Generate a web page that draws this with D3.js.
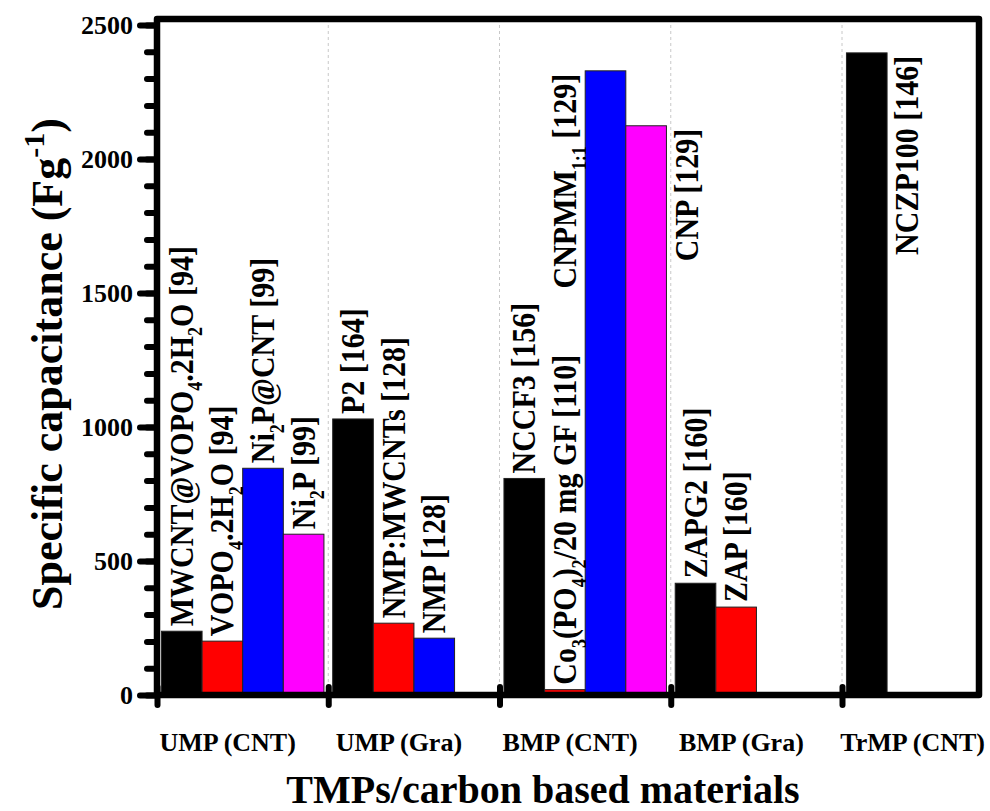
<!DOCTYPE html>
<html lang="en">
<head>
<meta charset="UTF-8">
<title>Specific capacitance of TMPs</title>
<style>
  body { margin: 0; background: #fff; }
  text { font-family: "Liberation Serif", "Times New Roman", serif; font-weight: bold; fill: #000; }
</style>
</head>
<body>
<svg width="990" height="811"></svg>
<script src="https://d3js.org/d3.v7.min.js"></script>
<script>
// data, one entry per category (null = no bar in that slot)
var categories = ["UMP (CNT)", "UMP (Gra)", "BMP (CNT)", "BMP (Gra)", "TrMP (CNT)"];
var blackVals   = [238, 1030, 808, 417, 2396];
var redVals     = [201, 268, 20, 328, null];
var blueVals    = [846, 212, 2329, null, null];
var magentaVals = [600, null, 2124, null, null];

// "_x" or "_{..}" marks a subscript
var blackLabels   = ["MWCNT@VOPO_4.2H_2O [94]", "P2 [164]", "NCCF3 [156]", "ZAPG2 [160]", "NCZP100 [146]"];
var redLabels     = ["VOPO_4.2H_2O [94]", "NMP:MWCNTs [128]", "Co_3(PO_4)_2/20 mg GF [110]", "ZAP [160]", null];
var blueLabels    = ["Ni_2P@CNT [99]", "NMP [128]", "CNPMM_{1:1} [129]", null, null];
var magentaLabels = ["Ni_2P [99]", null, "CNP [129]", null, null];

var yTicks = [0, 500, 1000, 1500, 2000, 2500];
var yMinor = d3.range(0, 2501, 100);

var svg = d3.select("svg");
var plotL = 157, plotR = 979, plotT = 19, plotB = 695;

var x = d3.scaleLinear().domain([0, 4.8]).range([plotL, plotR]);
var y = d3.scaleLinear().domain([0, 2500]).range([plotB, 25]);

var pad = 0.026, slotW = 0.2372;

var series = [
  { vals: blackVals, labels: blackLabels, color: "#000000" },
  { vals: redVals, labels: redLabels, color: "#ff0000" },
  { vals: blueVals, labels: blueLabels, color: "#0000ff" },
  { vals: magentaVals, labels: magentaLabels, color: "#ff00ff" }
];

var bars = [];
series.forEach(function (s, si) {
  s.vals.forEach(function (v, g) {
    if (v != null) bars.push({ g: g, s: si, v: v, label: s.labels[g], color: s.color });
  });
});

function valueAt(g, s) {
  if (s < 0) { g -= 1; s = 3; }
  if (s > 3) { g += 1; s = 0; }
  if (g < 0 || g >= categories.length) return 0;
  var v = series[s].vals[g];
  return v == null ? 0 : v;
}
function slotCenter(g, s) {
  return x(g + pad + (s + 0.5) * slotW);
}

// dashed separators
svg.append("g").selectAll("line")
  .data([1, 2, 3, 4])
  .enter().append("line")
  .attr("x1", function (d) { return x(d); })
  .attr("x2", function (d) { return x(d); })
  .attr("y1", plotT)
  .attr("y2", plotB)
  .attr("stroke", "#c8c8c8")
  .attr("stroke-width", 1)
  .attr("stroke-dasharray", "3,3");

// bars
svg.append("g").selectAll("rect")
  .data(bars)
  .enter().append("rect")
  .attr("x", function (d) { return x(d.g + pad + d.s * slotW); })
  .attr("width", function (d) { return x(slotW) - x(0); })
  .attr("y", function (d) { return y(d.v); })
  .attr("height", function (d) { return y(0) - y(d.v); })
  .attr("fill", function (d) { return d.color; })
  .attr("stroke", "#222")
  .attr("stroke-width", 1);

// rich text with subscripts
function rich(t, str) {
  var re = /_(\{[^}]*\}|.)/g, last = 0, m, shift = 0;
  var fs = +t.attr("font-size");
  function plain(s) {
    var sp = t.append("tspan").text(s);
    if (shift) { sp.attr("dy", -shift); shift = 0; }
  }
  while ((m = re.exec(str)) !== null) {
    if (m.index > last) plain(str.slice(last, m.index));
    var sub = m[1].replace(/[{}]/g, "");
    t.append("tspan").text(sub).attr("font-size", fs * 0.6).attr("dy", shift ? 0 : fs * 0.28);
    shift = fs * 0.28;
    last = re.lastIndex;
  }
  if (last < str.length) plain(str.slice(last));
}

var labelLayer = svg.append("g");
bars.forEach(function (b) {
  if (!b.label) return;
  var t = labelLayer.append("text").attr("font-size", 30);
  rich(t, b.label);
  var len = t.node().getComputedTextLength();
  var yTop = y(b.v);
  var cx, ay, anchor;
  if (yTop - 5 - len > plotT + 6) {
    cx = slotCenter(b.g, b.s); ay = yTop - 5; anchor = "start";
  } else {
    // no room above the bar: put it beside, on the side of the lower neighbour
    var side = valueAt(b.g, b.s + 1) <= valueAt(b.g, b.s - 1) ? 1 : -1;
    cx = slotCenter(b.g, b.s + side); ay = yTop + 3; anchor = "end";
  }
  t.attr("text-anchor", anchor)
    .attr("transform", "translate(" + (cx + 11) + "," + ay + ") rotate(-90) scale(1,1.15)");
});

// y axis ticks (major + minor)
var yMinorAxis = svg.append("g")
  .attr("transform", "translate(" + plotL + ",0)")
  .call(d3.axisLeft(y).tickValues(yMinor).tickSize(10).tickFormat(""));
yMinorAxis.selectAll("text").remove();
var yAxis = svg.append("g")
  .attr("transform", "translate(" + plotL + ",0)")
  .call(d3.axisLeft(y).tickValues(yTicks).tickSize(17).tickPadding(7).tickFormat(d3.format("d")));
[yMinorAxis, yAxis].forEach(function (a) {
  a.select(".domain").remove();
  a.selectAll("line").attr("stroke", "#000").attr("stroke-width", 6).attr("stroke-linecap", "round");
});
yAxis.selectAll("text")
  .style("font-family", "'Liberation Serif', 'Times New Roman', serif")
  .style("font-weight", "bold")
  .attr("font-size", 26)
  .attr("fill", "#000");

// x axis ticks at category boundaries
var xAxis = svg.append("g")
  .attr("transform", "translate(0," + plotB + ")")
  .call(d3.axisBottom(x).tickValues([0, 1, 2, 3, 4]).tickSize(10).tickFormat(""));
xAxis.select(".domain").remove();
xAxis.selectAll("text").remove();
xAxis.selectAll("line")
  .attr("y1", -8)
  .attr("stroke", "#000").attr("stroke-width", 6).attr("stroke-linecap", "round");

// frame
svg.append("rect")
  .attr("x", plotL).attr("y", plotT)
  .attr("width", plotR - plotL).attr("height", plotB - plotT)
  .attr("fill", "none")
  .attr("stroke", "#000")
  .attr("stroke-width", 6.5)
  .attr("stroke-linejoin", "round");

// category labels
svg.append("g").selectAll("text")
  .data(categories)
  .enter().append("text")
  .attr("x", function (d, i) { return x(i + 0.5) - 15; })
  .attr("y", 751)
  .attr("text-anchor", "middle")
  .attr("font-size", 26)
  .text(function (d) { return d; });

// axis titles
svg.append("text")
  .attr("x", 543).attr("y", 803)
  .attr("text-anchor", "middle")
  .attr("font-size", 40)
  .text("TMPs/carbon based materials");

var yt = svg.append("text")
  .attr("transform", "translate(62,364) rotate(-90)")
  .attr("text-anchor", "middle")
  .attr("font-size", 44);
yt.append("tspan").text("Specific capacitance (Fg");
yt.append("tspan").text("-1").attr("font-size", 30).attr("dy", -18);
yt.append("tspan").text(")").attr("dy", 18);
</script>
</body>
</html>
